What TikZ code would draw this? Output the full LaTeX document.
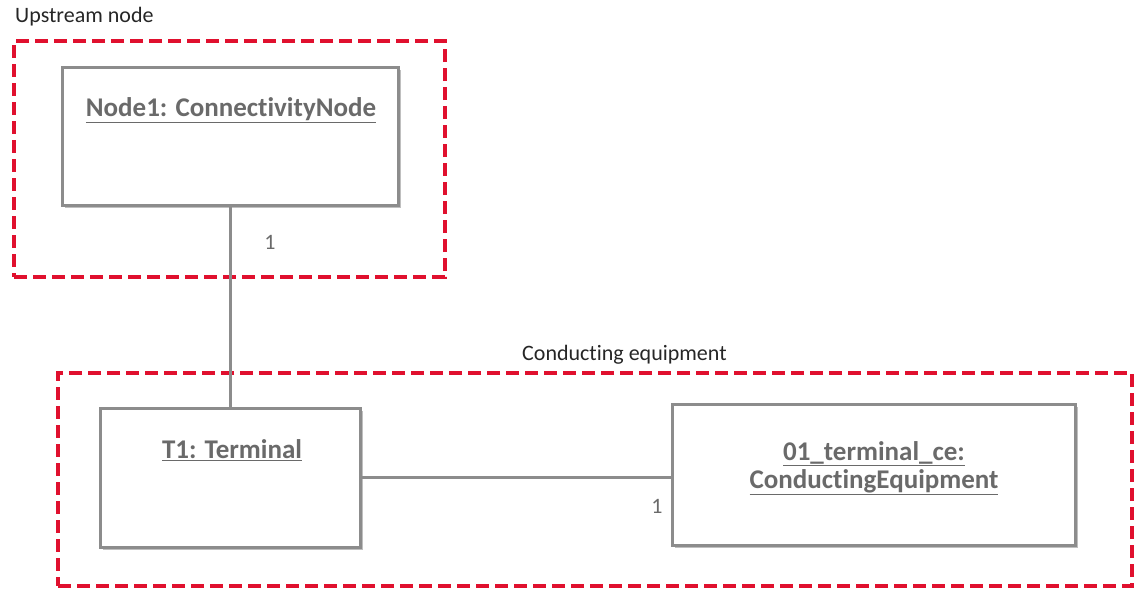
\documentclass[tikz,border=0pt]{standalone}
\usepackage{fontspec}
\setmainfont[Ligatures=NoCommon]{Carlito}
\usetikzlibrary{shadows}
\definecolor{boxgray}{HTML}{8C8C8C}
\definecolor{txtgray}{HTML}{6A6A6A}
\definecolor{dashred}{HTML}{E0102E}
\begin{document}
\begin{tikzpicture}[x=1pt,y=-1pt,
  objbox/.style={draw=boxgray, line width=3pt, fill=white, inner sep=0pt,
    drop shadow={shadow xshift=3pt, shadow yshift=-3pt, opacity=0.25, fill=black}},
  objname/.style={font=\fontsize{27}{31}\selectfont\bfseries, text=txtgray, align=center, inner sep=0pt},
  grouplabel/.style={font=\fontsize{22}{26}\selectfont, text=black!85, inner sep=0pt},
  mult/.style={font=\fontsize{22}{26}\selectfont, text=txtgray, inner sep=0pt},
  groupbox/.style={draw=dashred, line width=3.6pt, dash pattern=on 13pt off 6pt, inner sep=0pt},
  conn/.style={draw=boxgray, line width=3pt}]
\useasboundingbox (0,0) rectangle (1134,589);
% group frames
\node[groupbox, minimum width=431pt, minimum height=236pt] (up) at (229.5,159) {};
\node[groupbox, minimum width=1074pt, minimum height=213pt] (ce) at (595,479.5) {};
\node[grouplabel, anchor=west] (uplab) at (15,17) {Upstream node};
\node[grouplabel, anchor=west] (celab) at (522,355) {Conducting equipment};
% objects
\node[objbox, minimum width=336pt, minimum height=138pt] (n1) at (230,136) {};
\node[objbox, minimum width=260pt, minimum height=139pt] (t1) at (230,477.5) {};
\node[objbox, minimum width=403pt, minimum height=141pt] (eq) at (873.5,474.5) {};
\node[objname] (n1t) at (231,110) {\underline{Node1: ConnectivityNode}};
\node[objname] (t1t) at (232,450) {\underline{T1: Terminal}};
\node[objname] (eqt) at (874,468) {\underline{01\_terminal\_ce:}\\[-3pt]\underline{ConductingEquipment}};
% connectors
\draw[conn] (n1.south) -- (t1.north);
\draw[conn] (t1.east) -- (t1.east -| eq.west);
\node[mult] (m1) at (270,242) {1};
\node[mult] (m2) at (657,506) {1};
\end{tikzpicture}
\end{document}
